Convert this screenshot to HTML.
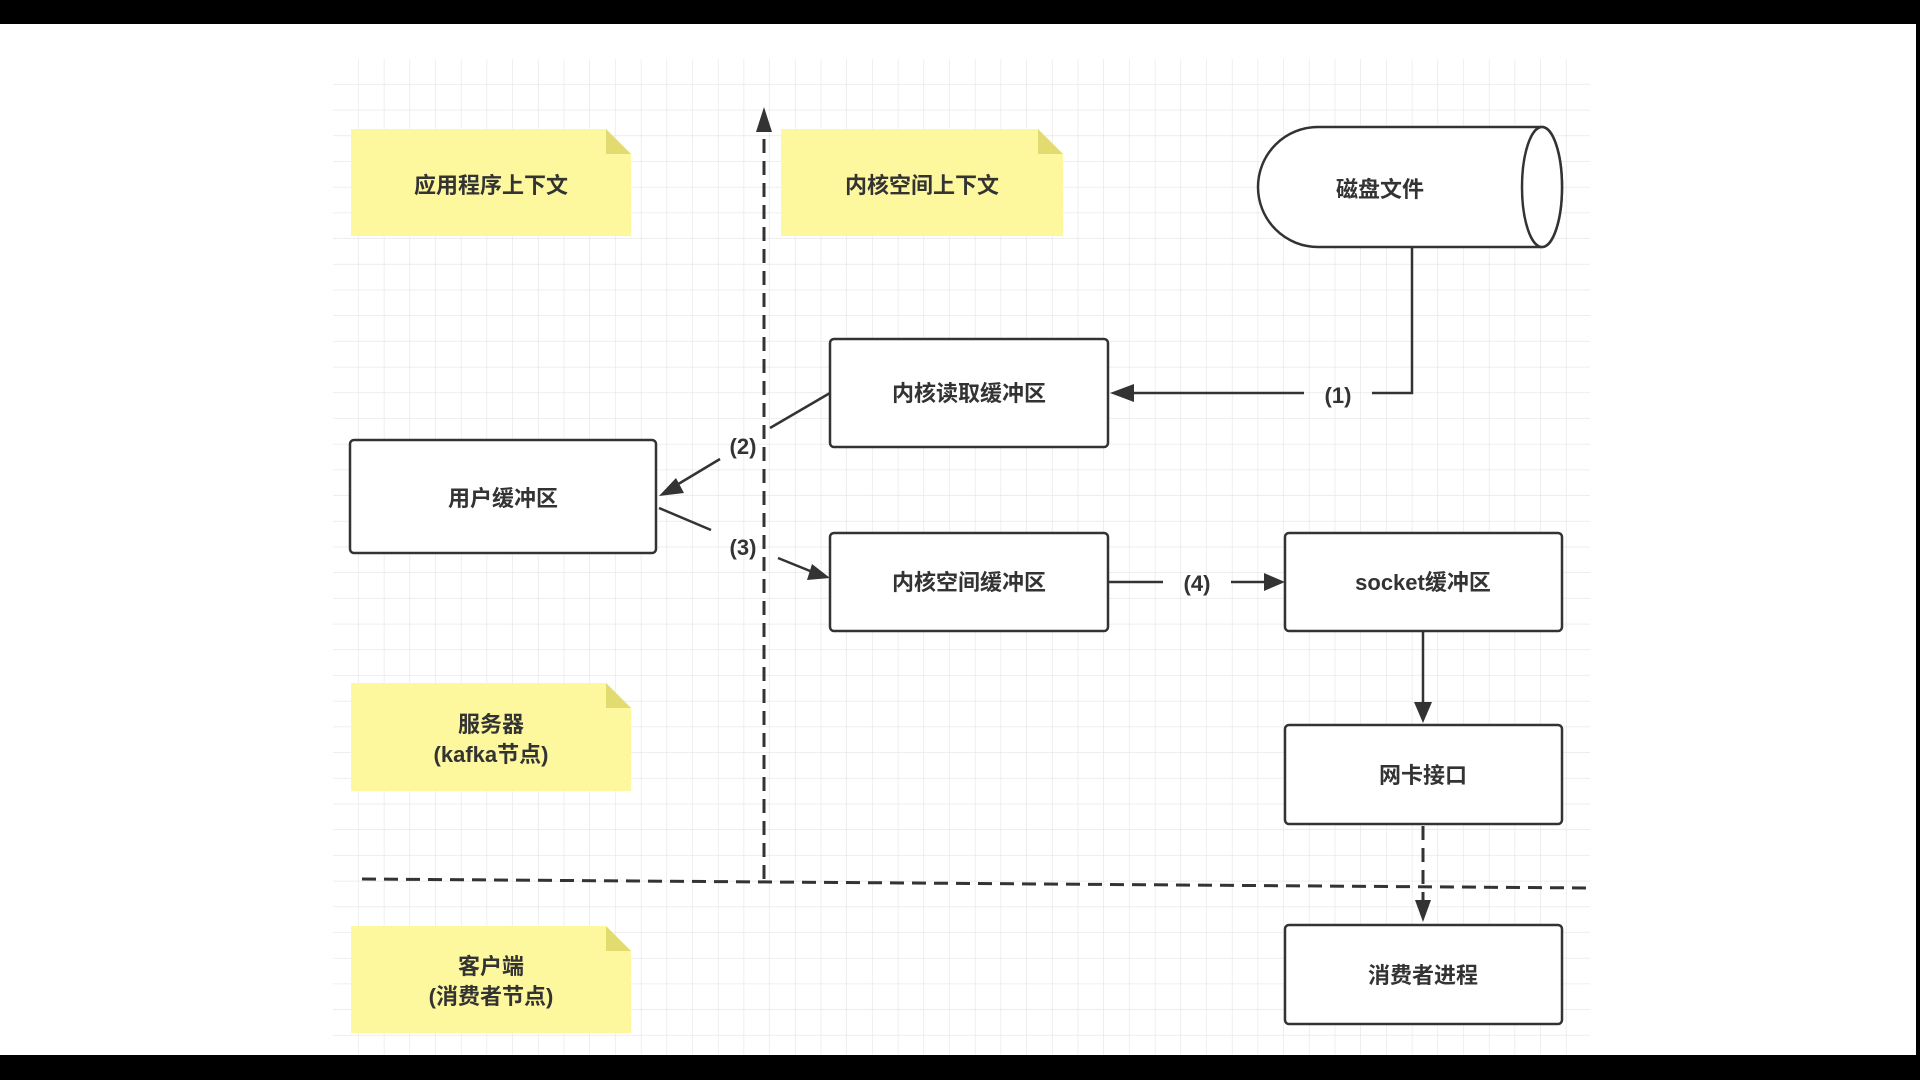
<!DOCTYPE html>
<html><head><meta charset="utf-8"><style>
html,body{margin:0;padding:0;background:#000;}
svg{display:block}
text{font-family:"Liberation Sans","Noto Sans CJK SC",sans-serif;font-weight:bold;font-size:22px;fill:#333;}
</style></head><body>
<svg width="1920" height="1080" viewBox="0 0 1920 1080" xmlns="http://www.w3.org/2000/svg">
<defs>
<pattern id="g" x="333" y="59" width="25.7" height="25.7" patternUnits="userSpaceOnUse">
<path d="M25.7 0V25.7M0 25.7H25.7" stroke="#e4e4e4" stroke-width="1.2" fill="none"/>
</pattern>
<marker id="a" viewBox="0 0 10 10" refX="9" refY="5" markerWidth="10" markerHeight="10" markerUnits="userSpaceOnUse" orient="auto"><path d="M0 0L10 5L0 10z" fill="#333"/></marker>
<marker id="b" viewBox="0 0 10 10" refX="9" refY="5" markerWidth="24" markerHeight="18" orient="auto" markerUnits="userSpaceOnUse"><path d="M0 0L10 5L0 10z" fill="#333"/></marker>
</defs>
<rect x="0" y="24" width="1916" height="1031" fill="#fff"/>
<rect x="333" y="59" width="1257" height="996" fill="url(#g)"/>
<g stroke="#333" stroke-width="2.5" fill="none">
<!-- notes -->
</g>
<g fill="#fdf89e">
<path d="M351 129H606L631 154V236H351Z"/>
<path d="M781 129H1038L1063 154V236H781Z"/>
<path d="M351 683H606L631 708V791H351Z"/>
<path d="M351 926H606L631 951V1033H351Z"/>
</g>
<g fill="#e2dc70">
<path d="M606 129L631 154H606Z"/><path d="M1038 129L1063 154H1038Z"/>
<path d="M606 683L631 708H606Z"/><path d="M606 926L631 951H606Z"/>
</g>
<text x="491" y="193" text-anchor="middle">应用程序上下文</text>
<text x="922" y="193" text-anchor="middle">内核空间上下文</text>
<text x="491" y="732" text-anchor="middle">服务器</text>
<text x="491" y="762" text-anchor="middle">(kafka节点)</text>
<text x="491" y="974" text-anchor="middle">客户端</text>
<text x="491" y="1004" text-anchor="middle">(消费者节点)</text>

<g stroke="#333" stroke-width="3" fill="none" stroke-dasharray="14 8">
<line x1="764" y1="879" x2="764" y2="122"/>
<line x1="362" y1="879" x2="1590" y2="888"/>
<line x1="1423" y1="826" x2="1423" y2="905"/>
</g>
<path d="M764 107L756 132L772 132Z" fill="#333"/>
<path d="M1423 922L1415 900L1431 900Z" fill="#333"/>

<!-- cylinder -->
<path d="M1318 127H1542A20 60 0 0 1 1542 247H1318A60 60 0 0 1 1318 127Z" fill="#fff" stroke="#333" stroke-width="2.5"/>
<ellipse cx="1542" cy="187" rx="20" ry="60" fill="#fff" stroke="#333" stroke-width="2.5"/>
<text x="1380" y="197" text-anchor="middle">磁盘文件</text>

<g fill="#fff" stroke="#333" stroke-width="2.5">
<rect x="830" y="339" width="278" height="108" rx="4"/>
<rect x="350" y="440" width="306" height="113" rx="4"/>
<rect x="830" y="533" width="278" height="98" rx="4"/>
<rect x="1285" y="533" width="277" height="98" rx="4"/>
<rect x="1285" y="725" width="277" height="99" rx="4"/>
<rect x="1285" y="925" width="277" height="99" rx="4"/>
</g>
<text x="969" y="401" text-anchor="middle">内核读取缓冲区</text>
<text x="503" y="506" text-anchor="middle">用户缓冲区</text>
<text x="969" y="590" text-anchor="middle">内核空间缓冲区</text>
<text x="1423" y="590" text-anchor="middle">socket缓冲区</text>
<text x="1423" y="783" text-anchor="middle">网卡接口</text>
<text x="1423" y="983" text-anchor="middle">消费者进程</text>

<g stroke="#333" stroke-width="2.5" fill="none">
<path d="M1412 247V393H1372"/>
<path d="M1304 393H1130"/>
<path d="M830 393L770 428"/>
<path d="M720 459L670 489"/>
<path d="M659 508L711 530"/>
<path d="M778 558L815 573"/>
<path d="M1108 582H1163"/>
<path d="M1231 582H1270"/>
<path d="M1423 631V705"/>
</g>
<path d="M1110 393L1134 384L1134 402Z" fill="#333"/>
<path d="M659 496L676 478L684 493Z" fill="#333"/>
<path d="M830 578L807 580L812 564Z" fill="#333"/>
<path d="M1285 582L1264 573L1264 591Z" fill="#333"/>
<path d="M1423 723L1414 702L1432 702Z" fill="#333"/>
<text x="1338" y="403" text-anchor="middle">(1)</text>
<text x="743" y="454" text-anchor="middle">(2)</text>
<text x="743" y="555" text-anchor="middle">(3)</text>
<text x="1197" y="591" text-anchor="middle">(4)</text>
</svg>
</body></html>
